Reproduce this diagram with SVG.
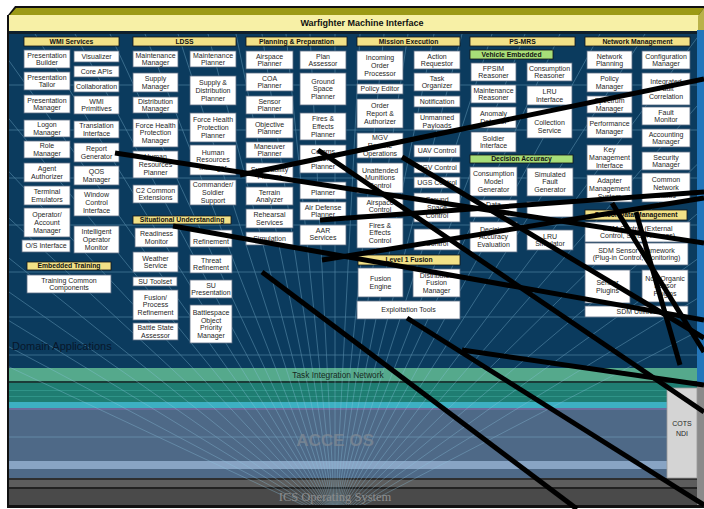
<svg xmlns="http://www.w3.org/2000/svg" width="704" height="509" viewBox="0 0 704 509">
<defs>
<style>
.b{fill:#fff;stroke:#5b6b82;stroke-width:0.8}
.h{fill:#f2e187;stroke:#151515;stroke-width:0.8}
.g{fill:#a8de78;stroke:#151515;stroke-width:0.8}
text{font-family:"Liberation Sans",Arial,sans-serif}
.t{font-size:7px;fill:#262626;text-anchor:middle}
.ht{font-size:6.8px;font-weight:bold;fill:#111;text-anchor:middle}
.grid{stroke:#8cc4e0;stroke-width:0.7;opacity:0.5;fill:none}
.c{stroke:#000;stroke-width:5;fill:none}
</style>
<clipPath id="layers"><rect x="9" y="34" width="688" height="471"/></clipPath>
</defs>
<rect width="704" height="509" fill="#fff"/>

<!-- top bar: Warfighter Machine Interface -->
<g id="wmi-bar">
<polygon points="8,15 15,6 704,6 704,15" fill="#111"/>
<polygon points="9,16 16,8 704,8 698,16" fill="#9c9a16"/>
<rect x="9" y="15" width="689" height="16" fill="#f7f0a6"/>
<polygon points="698,16 704,8 704,30 698,31" fill="#b9b24a"/>
<rect x="8" y="31" width="690" height="3" fill="#10202c"/>
<text x="362" y="26" font-size="9" font-weight="bold" fill="#111" text-anchor="middle">Warfighter Machine Interface</text>
</g>

<!-- stacked layers -->
<g id="layer-stack">
<rect x="8" y="34" width="689" height="334" fill="#0b3b5e"/>
<rect x="697" y="30" width="7" height="355" fill="#2376bb"/>
<rect x="9" y="368" width="688" height="13" fill="#55a98c"/>
<rect x="9" y="381" width="688" height="2" fill="#1b3c38"/>
<rect x="9" y="383" width="688" height="20" fill="#1f7d72"/>
<rect x="9" y="390" width="688" height="1" fill="#2f9488"/>
<rect x="9" y="396" width="688" height="1" fill="#2f9488"/>
<rect x="9" y="402" width="688" height="6" fill="#3db0c2"/>
<rect x="9" y="408" width="688" height="2" fill="#6a6c9c"/>
<rect x="9" y="410" width="688" height="51" fill="#4e6987"/>
<rect x="9" y="461" width="688" height="8" fill="#88a4c4"/>
<rect x="9" y="469" width="688" height="9" fill="#4e6987"/>
<rect x="9" y="478" width="695" height="2" fill="#2e2e2e"/>
<rect x="9" y="480" width="688" height="7" fill="#5d5d5d"/>
<rect x="9" y="487" width="688" height="2" fill="#222"/>
<rect x="9" y="489" width="688" height="16" fill="#4a4a4a"/>
<rect x="697" y="385" width="7" height="120" fill="#8a8a8a"/>
<rect x="7" y="15" width="2" height="492" fill="#111"/>
<rect x="7" y="505" width="697" height="3" fill="#111"/>
</g>

<!-- perspective grid -->
<g id="grid" clip-path="url(#layers)" class="grid">
<path d="M335,520 L-700,34 M335,520 L-580,34 M335,520 L-460,34 M335,520 L-360,34 M335,520 L-270,34 M335,520 L-190,34 M335,520 L-120,34 M335,520 L-60,34 M335,520 L-10,34 M335,520 L35,34 M335,520 L75,34 M335,520 L110,34 M335,520 L145,34 M335,520 L178,34 M335,520 L208,34 M335,520 L236,34 M335,520 L262,34 M335,520 L286,34 M335,520 L310,34 M335,520 L335,34 M335,520 L360,34 M335,520 L384,34 M335,520 L408,34 M335,520 L434,34 M335,520 L462,34 M335,520 L492,34 M335,520 L525,34 M335,520 L560,34 M335,520 L600,34 M335,520 L645,34 M335,520 L700,34 M335,520 L760,34 M335,520 L830,34 M335,520 L910,34 M335,520 L1010,34 M335,520 L1130,34 M335,520 L1270,34"/>
<path d="M9,85 H697 M9,130 H697 M9,178 H697 M9,225 H697 M9,272 H697 M9,317 H697 M9,355 H697 M9,437 H697"/>
</g>

<text x="12" y="350" font-size="11" fill="#08172a">Domain Applications</text>
<text x="338" y="378" font-size="8.3" fill="#152a22" text-anchor="middle">Task Integration Network</text>
<text x="335" y="446" font-size="17" font-weight="bold" fill="#7c8794" text-anchor="middle" opacity="0.8">ACCE OS</text>
<text x="335" y="501" font-size="12.5" fill="#8e8e8e" text-anchor="middle" style="font-family:'Liberation Serif',serif">ICS Operating System</text>

<g id="cots-ndi">
<rect x="667" y="388" width="30" height="90" fill="#d4d4d4" stroke="#9a9a9a" stroke-width="0.8"/>
<text class="t" x="682" y="426" font-size="8">COTS</text>
<text class="t" x="682" y="436" font-size="8">NDI</text>
</g>

<!-- WMI Services -->
<g id="wmi-services">
<rect class="h" x="24" y="37" width="95" height="9"/><text class="ht" x="71.5" y="43.8">WMI Services</text>
<g id="presentation-builder"><rect class="b" x="24" y="50" width="46" height="18"/><text class="t" x="47" y="57.5">Presentation<tspan x="47" dy="7.8">Builder</tspan></text></g>
<g id="presentation-tailor"><rect class="b" x="24" y="72" width="46" height="18"/><text class="t" x="47" y="79.5">Presentation<tspan x="47" dy="7.8">Tailor</tspan></text></g>
<g id="presentation-manager"><rect class="b" x="24" y="95" width="46" height="18"/><text class="t" x="47" y="102.5">Presentation<tspan x="47" dy="7.8">Manager</tspan></text></g>
<g id="logon-manager"><rect class="b" x="24" y="120" width="46" height="17"/><text class="t" x="47" y="127">Logon<tspan x="47" dy="7.8">Manager</tspan></text></g>
<g id="role-manager"><rect class="b" x="24" y="141" width="46" height="17"/><text class="t" x="47" y="148">Role<tspan x="47" dy="7.8">Manager</tspan></text></g>
<g id="agent-authorizer"><rect class="b" x="24" y="163" width="46" height="19"/><text class="t" x="47" y="171">Agent<tspan x="47" dy="7.8">Authorizer</tspan></text></g>
<g id="terminal-emulators"><rect class="b" x="24" y="186" width="46" height="19"/><text class="t" x="47" y="194">Terminal<tspan x="47" dy="7.8">Emulators</tspan></text></g>
<g id="operator-account-manager"><rect class="b" x="24" y="208" width="46" height="29"/><text class="t" x="47" y="217.1">Operator/<tspan x="47" dy="7.8">Account</tspan><tspan x="47" dy="7.8">Manager</tspan></text></g>
<g id="os-interface"><rect class="b" x="22" y="240" width="48" height="12"/><text class="t" x="46" y="248.4">O/S Interface</text></g>
<g id="visualizer"><rect class="b" x="74" y="51" width="45" height="11"/><text class="t" x="96.5" y="58.9">Visualizer</text></g>
<g id="core-apis"><rect class="b" x="74" y="66" width="45" height="11"/><text class="t" x="96.5" y="73.9">Core APIs</text></g>
<g id="collaboration"><rect class="b" x="74" y="81" width="45" height="11"/><text class="t" x="96.5" y="88.9">Collaboration</text></g>
<g id="wmi-primitives"><rect class="b" x="74" y="96" width="45" height="18"/><text class="t" x="96.5" y="103.5">WMI<tspan x="96.5" dy="7.8">Primitives</tspan></text></g>
<g id="translation-interface"><rect class="b" x="74" y="121" width="45" height="17"/><text class="t" x="96.5" y="128">Translation<tspan x="96.5" dy="7.8">Interface</tspan></text></g>
<g id="report-generator"><rect class="b" x="74" y="143" width="45" height="19"/><text class="t" x="96.5" y="151">Report<tspan x="96.5" dy="7.8">Generator</tspan></text></g>
<g id="qos-manager"><rect class="b" x="74" y="166" width="45" height="19"/><text class="t" x="96.5" y="174">QOS<tspan x="96.5" dy="7.8">Manager</tspan></text></g>
<g id="window-control-interface"><rect class="b" x="74" y="189" width="45" height="27"/><text class="t" x="96.5" y="197.1">Window<tspan x="96.5" dy="7.8">Control</tspan><tspan x="96.5" dy="7.8">Interface</tspan></text></g>
<g id="intelligent-operator-monitor"><rect class="b" x="74" y="226" width="45" height="27"/><text class="t" x="96.5" y="234.1">Intelligent<tspan x="96.5" dy="7.8">Operator</tspan><tspan x="96.5" dy="7.8">Monitor</tspan></text></g>
</g>

<!-- Embedded Training -->
<g id="embedded-training">
<rect class="h" x="27" y="262" width="84" height="8"/><text class="ht" x="69" y="268.4">Embedded Training</text>
<g id="training-common-components"><rect class="b" x="27" y="275" width="84" height="18"/><text class="t" x="69" y="282.5">Training Common<tspan x="69" dy="7.8">Components</tspan></text></g>
</g>

<!-- LDSS -->
<g id="ldss">
<rect class="h" x="133" y="37" width="103" height="9"/><text class="ht" x="184.5" y="43.8">LDSS</text>
<g id="maintenance-manager"><rect class="b" x="133" y="51" width="45" height="16"/><text class="t" x="155.5" y="57.5">Maintenance<tspan x="155.5" dy="7.8">Manager</tspan></text></g>
<g id="supply-manager"><rect class="b" x="133" y="73" width="45" height="19"/><text class="t" x="155.5" y="81">Supply<tspan x="155.5" dy="7.8">Manager</tspan></text></g>
<g id="distribution-manager"><rect class="b" x="133" y="97" width="45" height="16"/><text class="t" x="155.5" y="103.5">Distribution<tspan x="155.5" dy="7.8">Manager</tspan></text></g>
<g id="fhp-manager"><rect class="b" x="133" y="119" width="45" height="28"/><text class="t" x="155.5" y="127.6">Force Health<tspan x="155.5" dy="7.8">Protection</tspan><tspan x="155.5" dy="7.8">Manager</tspan></text></g>
<g id="hr-planner"><rect class="b" x="133" y="151" width="45" height="27"/><text class="t" x="155.5" y="159.1">Human<tspan x="155.5" dy="7.8">Resources</tspan><tspan x="155.5" dy="7.8">Planner</tspan></text></g>
<g id="c2-common-extensions"><rect class="b" x="133" y="185" width="45" height="18"/><text class="t" x="155.5" y="192.5">C2 Common<tspan x="155.5" dy="7.8">Extensions</tspan></text></g>
<g id="maintenance-planner"><rect class="b" x="190" y="51" width="46" height="16"/><text class="t" x="213" y="57.5">Maintenance<tspan x="213" dy="7.8">Planner</tspan></text></g>
<g id="supply-distribution-planner"><rect class="b" x="190" y="76" width="46" height="29"/><text class="t" x="213" y="85.1">Supply &amp;<tspan x="213" dy="7.8">Distribution</tspan><tspan x="213" dy="7.8">Planner</tspan></text></g>
<g id="fhp-planner"><rect class="b" x="190" y="113" width="46" height="29"/><text class="t" x="213" y="122.1">Force Health<tspan x="213" dy="7.8">Protection</tspan><tspan x="213" dy="7.8">Planner</tspan></text></g>
<g id="hr-manager"><rect class="b" x="190" y="145" width="46" height="30"/><text class="t" x="213" y="154.6">Human<tspan x="213" dy="7.8">Resources</tspan><tspan x="213" dy="7.8">Manager</tspan></text></g>
<g id="commander-soldier-support"><rect class="b" x="190" y="180" width="46" height="25"/><text class="t" x="213" y="187.1">Commander/<tspan x="213" dy="7.8">Soldier</tspan><tspan x="213" dy="7.8">Support</tspan></text></g>
</g>

<!-- Situational Understanding -->
<g id="situational-understanding">
<rect class="h" x="133" y="216" width="98" height="8"/><text class="ht" x="182" y="222.4">Situational Understanding</text>
<g id="readiness-monitor"><rect class="b" x="135" y="228" width="43" height="19"/><text class="t" x="156.5" y="236">Readiness<tspan x="156.5" dy="7.8">Monitor</tspan></text></g>
<g id="refinement"><rect class="b" x="190" y="230" width="42" height="17"/><text class="t" x="211" y="244">Refinement</text></g>
<g id="weather-service"><rect class="b" x="133" y="252" width="45" height="20"/><text class="t" x="155.5" y="260.5">Weather<tspan x="155.5" dy="7.8">Service</tspan></text></g>
<g id="threat-refinement"><rect class="b" x="190" y="255" width="42" height="18"/><text class="t" x="211" y="262.5">Threat<tspan x="211" dy="7.8">Refinement</tspan></text></g>
<g id="su-toolset"><rect class="b" x="133" y="277" width="44" height="9"/><text class="t" x="155" y="283.9">SU Toolset</text></g>
<g id="su-presentation"><rect class="b" x="190" y="280" width="42" height="18"/><text class="t" x="211" y="287.5">SU<tspan x="211" dy="7.8">Presentation</tspan></text></g>
<g id="fusion-process-refinement"><rect class="b" x="133" y="290" width="45" height="30"/><text class="t" x="155.5" y="299.6">Fusion/<tspan x="155.5" dy="7.8">Process</tspan><tspan x="155.5" dy="7.8">Refinement</tspan></text></g>
<g id="battlespace-object-priority-manager"><rect class="b" x="190" y="305" width="42" height="38"/><text class="t" x="211" y="314.7">Battlespace<tspan x="211" dy="7.8">Object</tspan><tspan x="211" dy="7.8">Priority</tspan><tspan x="211" dy="7.8">Manager</tspan></text></g>
<g id="battle-state-assessor"><rect class="b" x="133" y="323" width="45" height="17"/><text class="t" x="155.5" y="330">Battle State<tspan x="155.5" dy="7.8">Assessor</tspan></text></g>
</g>

<!-- Planning & Preparation -->
<g id="planning-preparation">
<rect class="h" x="246" y="37" width="101" height="9"/><text class="ht" x="296.5" y="43.8">Planning &amp; Preparation</text>
<g id="airspace-planner"><rect class="b" x="246" y="51" width="47" height="18"/><text class="t" x="269.5" y="58.5">Airspace<tspan x="269.5" dy="7.8">Planner</tspan></text></g>
<g id="coa-planner"><rect class="b" x="246" y="73" width="47" height="18"/><text class="t" x="269.5" y="80.5">COA<tspan x="269.5" dy="7.8">Planner</tspan></text></g>
<g id="sensor-planner"><rect class="b" x="246" y="96" width="47" height="18"/><text class="t" x="269.5" y="103.5">Sensor<tspan x="269.5" dy="7.8">Planner</tspan></text></g>
<g id="objective-planner"><rect class="b" x="246" y="118" width="47" height="20"/><text class="t" x="269.5" y="126.5">Objective<tspan x="269.5" dy="7.8">Planner</tspan></text></g>
<g id="maneuver-planner"><rect class="b" x="246" y="142" width="47" height="16"/><text class="t" x="269.5" y="148.5">Maneuver<tspan x="269.5" dy="7.8">Planner</tspan></text></g>
<g id="survivability-planner"><rect class="b" x="246" y="163" width="47" height="20"/><text class="t" x="269.5" y="171.5">Survivability<tspan x="269.5" dy="7.8">Planner</tspan></text></g>
<g id="terrain-analyzer"><rect class="b" x="246" y="187" width="47" height="18"/><text class="t" x="269.5" y="194.5">Terrain<tspan x="269.5" dy="7.8">Analyzer</tspan></text></g>
<g id="rehearsal-services"><rect class="b" x="246" y="209" width="47" height="19"/><text class="t" x="269.5" y="217">Rehearsal<tspan x="269.5" dy="7.8">Services</tspan></text></g>
<g id="simulation"><rect class="b" x="246" y="232" width="47" height="13"/><text class="t" x="269.5" y="240.9">Simulation</text></g>
<g id="plan-assessor"><rect class="b" x="300" y="51" width="46" height="18"/><text class="t" x="323" y="58.5">Plan<tspan x="323" dy="7.8">Assessor</tspan></text></g>
<g id="ground-space-planner"><rect class="b" x="300" y="73" width="46" height="32"/><text class="t" x="323" y="83.6">Ground<tspan x="323" dy="7.8">Space</tspan><tspan x="323" dy="7.8">Planner</tspan></text></g>
<g id="fires-effects-planner"><rect class="b" x="300" y="113" width="46" height="27"/><text class="t" x="323" y="121.1">Fires &amp;<tspan x="323" dy="7.8">Effects</tspan><tspan x="323" dy="7.8">Planner</tspan></text></g>
<g id="comms-net-planner"><rect class="b" x="300" y="145" width="46" height="28"/><text class="t" x="323" y="153.6">Comms<tspan x="323" dy="7.8">Net</tspan><tspan x="323" dy="7.8">Planner</tspan></text></g>
<g id="planner"><rect class="b" x="300" y="182" width="46" height="17"/><text class="t" x="323" y="195">Planner</text></g>
<g id="air-defense-planner"><rect class="b" x="300" y="202" width="46" height="18"/><text class="t" x="323" y="209.5">Air Defense<tspan x="323" dy="7.8">Planner</tspan></text></g>
<g id="aar-services"><rect class="b" x="300" y="225" width="46" height="20"/><text class="t" x="323" y="232.5">AAR<tspan x="323" dy="7.8">Services</tspan></text></g>
</g>

<!-- Mission Execution -->
<g id="mission-execution">
<rect class="h" x="357" y="37" width="103" height="9"/><text class="ht" x="408.5" y="43.8">Mission Execution</text>
<g id="incoming-order-processor"><rect class="b" x="357" y="51" width="46" height="29"/><text class="t" x="380" y="60.1">Incoming<tspan x="380" dy="7.8">Order</tspan><tspan x="380" dy="7.8">Processor</tspan></text></g>
<g id="policy-editor"><rect class="b" x="357" y="84" width="46" height="10"/><text class="t" x="380" y="91.4">Policy Editor</text></g>
<g id="order-report-authorizer"><rect class="b" x="357" y="99" width="46" height="29"/><text class="t" x="380" y="108.1">Order<tspan x="380" dy="7.8">Report &amp;</tspan><tspan x="380" dy="7.8">Authorizer</tspan></text></g>
<g id="mgv-remote-operations"><rect class="b" x="357" y="133" width="46" height="25"/><text class="t" x="380" y="140.1">MGV<tspan x="380" dy="7.8">Remote</tspan><tspan x="380" dy="7.8">Operations</tspan></text></g>
<g id="unattended-munitions-control"><rect class="b" x="357" y="163" width="46" height="30"/><text class="t" x="380" y="172.6">Unattended<tspan x="380" dy="7.8">Munitions</tspan><tspan x="380" dy="7.8">Control</tspan></text></g>
<g id="airspace-control"><rect class="b" x="357" y="197" width="46" height="18"/><text class="t" x="380" y="204.5">Airspace<tspan x="380" dy="7.8">Control</tspan></text></g>
<g id="fires-effects-control"><rect class="b" x="357" y="218" width="46" height="30"/><text class="t" x="380" y="227.6">Fires &amp;<tspan x="380" dy="7.8">Effects</tspan><tspan x="380" dy="7.8">Control</tspan></text></g>
<g id="action-requestor"><rect class="b" x="414" y="51" width="46" height="18"/><text class="t" x="437" y="58.5">Action<tspan x="437" dy="7.8">Requestor</tspan></text></g>
<g id="task-organizer"><rect class="b" x="414" y="73" width="46" height="18"/><text class="t" x="437" y="80.5">Task<tspan x="437" dy="7.8">Organizer</tspan></text></g>
<g id="notification"><rect class="b" x="414" y="96" width="46" height="11"/><text class="t" x="437" y="103.9">Notification</text></g>
<g id="unmanned-payloads"><rect class="b" x="414" y="113" width="46" height="17"/><text class="t" x="437" y="120">Unmanned<tspan x="437" dy="7.8">Payloads</tspan></text></g>
<g id="uav-control"><rect class="b" x="414" y="145" width="46" height="12"/><text class="t" x="437" y="153.4">UAV Control</text></g>
<g id="ugv-control"><rect class="b" x="414" y="162" width="46" height="11"/><text class="t" x="437" y="169.9">UGV Control</text></g>
<g id="ugs-control"><rect class="b" x="414" y="177" width="46" height="11"/><text class="t" x="437" y="184.9">UGS Control</text></g>
<g id="ground-space-control"><rect class="b" x="414" y="193" width="46" height="29"/><text class="t" x="437" y="202.1">Ground<tspan x="437" dy="7.8">Space</tspan><tspan x="437" dy="7.8">Control</tspan></text></g>
<g id="control"><rect class="b" x="414" y="229" width="46" height="21"/><text class="t" x="437" y="246">Control</text></g>
</g>

<!-- Level 1 Fusion -->
<g id="level-1-fusion">
<rect class="h" x="358" y="255" width="102" height="10"/><text class="ht" x="409" y="262.4">Level 1 Fusion</text>
<g id="fusion-engine"><rect class="b" x="358" y="268" width="45" height="29"/><text class="t" x="380.5" y="281">Fusion<tspan x="380.5" dy="7.8">Engine</tspan></text></g>
<g id="distributed-fusion-manager"><rect class="b" x="413" y="269" width="47" height="28"/><text class="t" x="436.5" y="277.6">Distributed<tspan x="436.5" dy="7.8">Fusion</tspan><tspan x="436.5" dy="7.8">Manager</tspan></text></g>
<g id="exploitation-tools"><rect class="b" x="357" y="301" width="103" height="18"/><text class="t" x="408.5" y="312.4">Exploitation  Tools</text></g>
</g>

<!-- PS-MRS -->
<g id="ps-mrs">
<rect class="h" x="470" y="37" width="105" height="9"/><text class="ht" x="522.5" y="43.8">PS-MRS</text>
<rect class="g" x="470" y="50" width="83" height="9"/><text class="ht" x="511.5" y="56.8">Vehicle Embedded</text>
<g id="fpsim-reasoner"><rect class="b" x="471" y="63" width="45" height="18"/><text class="t" x="493.5" y="70.5">FPSIM<tspan x="493.5" dy="7.8">Reasoner</tspan></text></g>
<g id="maintenance-reasoner"><rect class="b" x="471" y="85" width="45" height="18"/><text class="t" x="493.5" y="92.5">Maintenance<tspan x="493.5" dy="7.8">Reasoner</tspan></text></g>
<g id="anomaly-detector"><rect class="b" x="471" y="107" width="45" height="21"/><text class="t" x="493.5" y="116">Anomaly<tspan x="493.5" dy="7.8">Detector</tspan></text></g>
<g id="soldier-interface"><rect class="b" x="471" y="132" width="45" height="20"/><text class="t" x="493.5" y="140.5">Soldier<tspan x="493.5" dy="7.8">Interface</tspan></text></g>
<g id="consumption-reasoner"><rect class="b" x="527" y="63" width="45" height="18"/><text class="t" x="549.5" y="70.5">Consumption<tspan x="549.5" dy="7.8">Reasoner</tspan></text></g>
<g id="lru-interface"><rect class="b" x="527" y="86" width="45" height="19"/><text class="t" x="549.5" y="94">LRU<tspan x="549.5" dy="7.8">Interface</tspan></text></g>
<g id="collection-service"><rect class="b" x="527" y="108" width="45" height="30"/><text class="t" x="549.5" y="125">Collection<tspan x="549.5" dy="7.8">Service</tspan></text></g>
<rect class="g" x="470" y="155" width="103" height="8"/><text class="ht" x="521.5" y="161.4">Decision Accuracy</text>
<g id="consumption-model-generator"><rect class="b" x="470" y="167" width="47" height="29"/><text class="t" x="493.5" y="176.1">Consumption<tspan x="493.5" dy="7.8">Model</tspan><tspan x="493.5" dy="7.8">Generator</tspan></text></g>
<g id="simulated-fault-generator"><rect class="b" x="527" y="168" width="46" height="28"/><text class="t" x="550" y="176.6">Simulated<tspan x="550" dy="7.8">Fault</tspan><tspan x="550" dy="7.8">Generator</tspan></text></g>
<g id="data"><rect class="b" x="470" y="200" width="47" height="17"/><text class="t" x="493.5" y="207">Data</text></g>
<g id="da-unlabeled"><rect class="b" x="527" y="202" width="46" height="15"/></g>
<g id="decision-accuracy-evaluation"><rect class="b" x="470" y="222" width="47" height="30"/><text class="t" x="493.5" y="231.6">Decision<tspan x="493.5" dy="7.8">Accuracy</tspan><tspan x="493.5" dy="7.8">Evaluation</tspan></text></g>
<g id="lru-simulator"><rect class="b" x="527" y="230" width="46" height="20"/><text class="t" x="550" y="238.5">LRU<tspan x="550" dy="7.8">Simulator</tspan></text></g>
</g>

<!-- Network Management -->
<g id="network-management">
<rect class="h" x="585" y="37" width="105" height="9"/><text class="ht" x="637.5" y="43.8">Network Management</text>
<g id="network-planning"><rect class="b" x="587" y="51" width="45" height="18"/><text class="t" x="609.5" y="58.5">Network<tspan x="609.5" dy="7.8">Planning</tspan></text></g>
<g id="policy-manager"><rect class="b" x="587" y="73" width="45" height="19"/><text class="t" x="609.5" y="81">Policy<tspan x="609.5" dy="7.8">Manager</tspan></text></g>
<g id="spectrum-manager"><rect class="b" x="587" y="96" width="45" height="17"/><text class="t" x="609.5" y="103">Spectrum<tspan x="609.5" dy="7.8">Manager</tspan></text></g>
<g id="performance-manager"><rect class="b" x="587" y="117" width="45" height="21"/><text class="t" x="609.5" y="126">Performance<tspan x="609.5" dy="7.8">Manager</tspan></text></g>
<g id="key-management-interface"><rect class="b" x="587" y="145" width="45" height="25"/><text class="t" x="609.5" y="152.1">Key<tspan x="609.5" dy="7.8">Management</tspan><tspan x="609.5" dy="7.8">Interface</tspan></text></g>
<g id="adapter-management-system"><rect class="b" x="587" y="175" width="45" height="27"/><text class="t" x="609.5" y="183.1">Adapter<tspan x="609.5" dy="7.8">Management</tspan><tspan x="609.5" dy="7.8">System</tspan></text></g>
<g id="configuration-manager"><rect class="b" x="642" y="51" width="48" height="18"/><text class="t" x="666" y="58.5">Configuration<tspan x="666" dy="7.8">Manager</tspan></text></g>
<g id="integrated-fault-correlation"><rect class="b" x="642" y="73" width="48" height="32"/><text class="t" x="666" y="83.6">Integrated<tspan x="666" dy="7.8">Fault</tspan><tspan x="666" dy="7.8">Correlation</tspan></text></g>
<g id="fault-monitor"><rect class="b" x="642" y="107" width="48" height="18"/><text class="t" x="666" y="114.5">Fault<tspan x="666" dy="7.8">Monitor</tspan></text></g>
<g id="accounting-manager"><rect class="b" x="642" y="129" width="48" height="18"/><text class="t" x="666" y="136.5">Accounting<tspan x="666" dy="7.8">Manager</tspan></text></g>
<g id="security-manager"><rect class="b" x="642" y="152" width="48" height="18"/><text class="t" x="666" y="159.5">Security<tspan x="666" dy="7.8">Manager</tspan></text></g>
<g id="common-network-status"><rect class="b" x="642" y="173" width="48" height="29"/><text class="t" x="666" y="182.1">Common<tspan x="666" dy="7.8">Network</tspan><tspan x="666" dy="7.8">Status</tspan></text></g>
</g>

<!-- Sensor Data Management -->
<g id="sensor-data-management">
<rect class="h" x="585" y="210" width="102" height="10"/><text class="ht" x="636" y="217.4">Sensor Data Management</text>
<g id="sdm-control"><rect class="b" x="585" y="222" width="105" height="20"/><text class="t" x="637.5" y="230.5">SDM Control (External<tspan x="637.5" dy="7.8">Control, Sensor Access)</tspan></text></g>
<g id="sdm-sensor-framework"><rect class="b" x="585" y="243" width="103" height="22"/><text class="t" x="636.5" y="252.5">SDM Sensor Framework<tspan x="636.5" dy="7.8">(Plug-in Control, Monitoring)</tspan></text></g>
<g id="sensor-plugins"><rect class="b" x="585" y="270" width="45" height="33"/><text class="t" x="607.5" y="285">Sensor<tspan x="607.5" dy="7.8">Plugins</tspan></text></g>
<g id="non-organic-sensor-plugins"><rect class="b" x="642" y="270" width="46" height="32"/><text class="t" x="665" y="280.6">Non-Organic<tspan x="665" dy="7.8">Sensor</tspan><tspan x="665" dy="7.8">Plugins</tspan></text></g>
<g id="sdm-utilities"><rect class="b" x="585" y="306" width="103" height="11"/><text class="t" x="636.5" y="313.9">SDM Utilities</text></g>
</g>

<!-- connectors -->
<g id="connectors" class="c">
<path d="M115,153 L704,243"/>
<path d="M240,175 L704,79"/>
<path d="M318,150 L704,412"/>
<path d="M402,157 L704,338"/>
<path d="M320,220 L704,192"/>
<path d="M322,260 L704,198"/>
<path d="M173,226 L704,320"/>
<path d="M262,272 L577,509"/>
<path d="M407,318 L704,505"/>
<path d="M462,350 L704,385"/>
<path d="M612,203 L704,352"/>
<path d="M636,212 L680,365"/>
</g>
</svg>
